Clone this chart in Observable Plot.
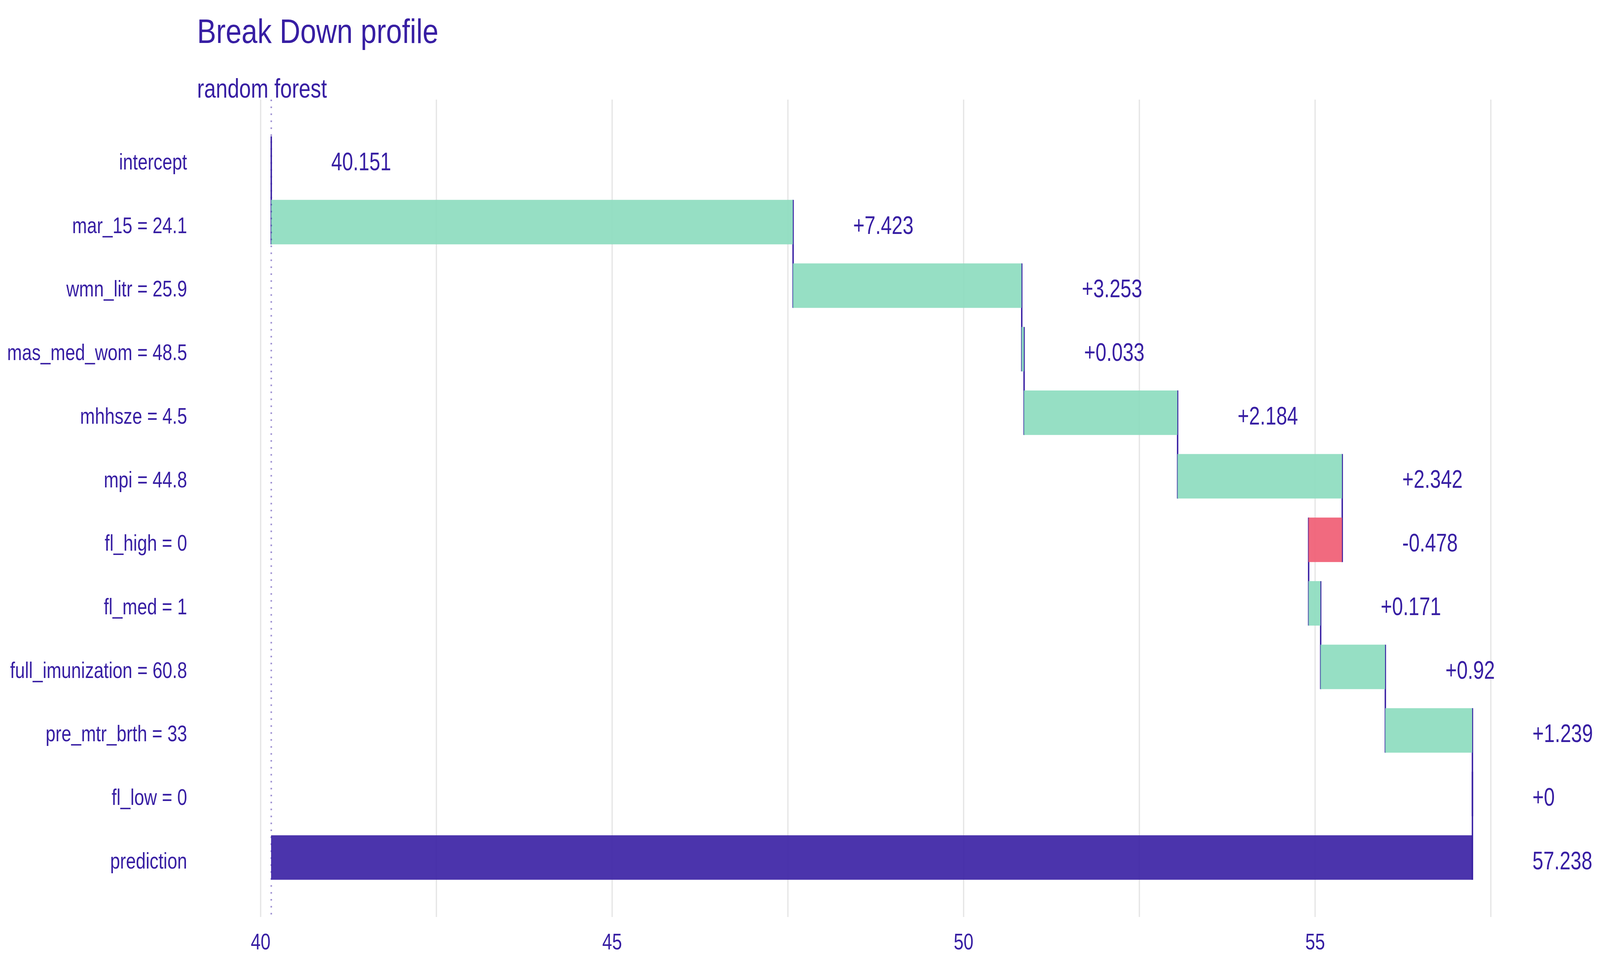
<!DOCTYPE html>
<html><head><meta charset="utf-8">
<script src="https://cdn.jsdelivr.net/npm/d3@7"></script>
<script src="https://cdn.jsdelivr.net/npm/@observablehq/plot@0.6"></script>
<style>
html,body{margin:0;padding:0;background:#fff;overflow:hidden;}
#wrap{width:4238px;height:2453px;font-family:"Liberation Sans",Arial,sans-serif;color:#371ea3;transform-origin:0 0;}
#head{position:relative;height:255px;}
#title{position:absolute;left:522px;top:36px;font-size:88px;line-height:1;white-space:nowrap;transform:scaleX(0.86);transform-origin:0 50%;}
#subtitle{position:absolute;left:522px;top:192px;font-size:68px;line-height:1;white-space:nowrap;transform:scaleX(0.82);transform-origin:0 50%;}
</style></head>
<body><div id="wrap"><div id="head"><div id="title">Break Down profile</div><div id="subtitle">random forest</div></div><div id="chart"></div></div>
<script>
const FONT = '"Liberation Sans", Arial, sans-serif';
const INK = "#371ea3";
const NARROW = 0.81;

// Data
const variables = ["intercept", "mar_15 = 24.1", "wmn_litr = 25.9", "mas_med_wom = 48.5", "mhhsze = 4.5", "mpi = 44.8", "fl_high = 0", "fl_med = 1", "full_imunization = 60.8", "pre_mtr_brth = 33", "fl_low = 0", "prediction"];
const contributions = [40.151, 7.423, 3.253, 0.033, 2.184, 2.342, -0.478, 0.171, 0.92, 1.239, 0, 57.238];
const valueLabels = ["40.151", "+7.423", "+3.253", "+0.033", "+2.184", "+2.342", "-0.478", "+0.171", "+0.92", "+1.239", "+0", "57.238"];
const xTicks = [40, 45, 50, 55];
const gridValues = [40, 42.5, 45, 47.5, 50, 52.5, 55, 57.5];

// Derived tables
const n = variables.length;
const intercept = contributions[0];
const rows = [];
let cum = 0;
for (let i = 0; i < n; i++) {
  let prev, cur, sign;
  if (i === 0) { prev = intercept; cur = intercept; cum = intercept; sign = "intercept"; }
  else if (i === n - 1) { prev = intercept; cur = contributions[i]; sign = "prediction"; }
  else { prev = cum; cum = cum + contributions[i]; cur = cum; sign = contributions[i] < 0 ? "negative" : "positive"; }
  rows.push({pos: i, prev, cur, right: Math.max(prev, cur), sign, label: valueLabels[i]});
}
const bars = rows.filter(r => r.sign !== "intercept").map(r => ({x1: r.prev, x2: r.cur, y1: r.pos - 0.35, y2: r.pos + 0.35, sign: r.sign}));
const connectors = rows.filter(r => r.sign !== "prediction").map(r => ({x: r.cur, y1: r.pos - 0.35, y2: r.pos + 1.35}));

const plot = Plot.plot({
  width: 4238, height: 2198,
  marginLeft: 530, marginRight: 0, marginTop: 0, marginBottom: 105,
  style: {fontFamily: FONT, fontSize: "58px", color: INK, background: "white", overflow: "visible"},
  x: {domain: [39.1413, 59.0553], axis: null},
  y: {domain: [-0.928, 11.936], reverse: true, axis: null},
  color: {domain: ["positive", "negative", "prediction"], range: ["#8bdcbe", "#f05a71", "#371ea3"]},
  marks: [
    Plot.ruleX(gridValues, {stroke: "#e5e5e5", strokeWidth: 3.3}),
    Plot.text(xTicks, {x: d => d, text: d => String(d), frameAnchor: "bottom", lineAnchor: "middle", dy: 64, fontSize: 58, fill: INK}),
    Plot.axisY(d3.range(n), {tickSize: 0, tickPadding: 35, tickFormat: i => variables[i], label: null, dy: 9, fontSize: 58}),
    Plot.ruleX(connectors, {x: "x", y1: "y1", y2: "y2", stroke: INK, strokeWidth: 3.7}),
    Plot.rect(bars, {x1: "x1", x2: "x2", y1: "y1", y2: "y2", fill: "sign", fillOpacity: 0.9}),
    Plot.ruleX([intercept], {stroke: INK, strokeOpacity: 0.5, strokeWidth: 4, strokeDasharray: "4,13.8"}),
    Plot.text(rows, {x: "right", y: "pos", text: "label", textAnchor: "start", dx: 159, dy: 9, fontSize: 64, fill: INK})
  ]
});
document.getElementById("chart").appendChild(plot);

// condense glyphs horizontally (about each text's anchor) to match the narrow lettering of the original
plot.querySelectorAll("text").forEach(t => {
  const tr = t.getAttribute("transform") || "";
  const x = parseFloat(t.getAttribute("x")) || 0;
  t.setAttribute("transform", `${tr} translate(${x},0) scale(${NARROW},1) translate(${-x},0)`);
});

// fit the 4238x2453 layout to the actual viewport
const vw = window.innerWidth || document.documentElement.clientWidth || 4238;
const vh = window.innerHeight || document.documentElement.clientHeight || 2453;
const sx = vw / 4238, sy = vh / 2453;
if (Math.abs(sx - 1) > 0.002 || Math.abs(sy - 1) > 0.002) document.getElementById("wrap").style.transform = `scale(${sx},${sy})`;
</script></body></html>
